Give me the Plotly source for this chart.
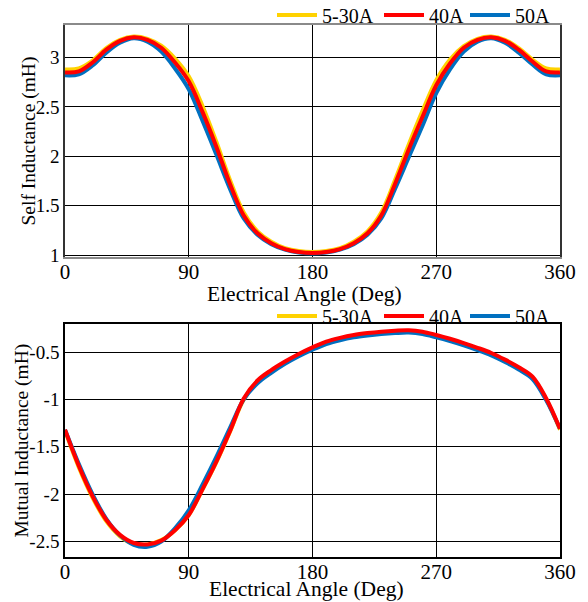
import plotly.graph_objects as go

# ---------------- data ----------------
angles = [0, 10, 20, 30, 40, 50, 60, 70, 80, 90, 100, 110, 120, 130, 140, 150, 160, 170, 180,
          190, 200, 210, 220, 230, 240, 250, 260, 270, 280, 290, 300, 310, 320, 330, 340, 350, 360]

self_5_30A = [2.88, 2.89, 2.97, 3.095, 3.18, 3.213, 3.19, 3.12, 2.99, 2.81, 2.51, 2.15, 1.76, 1.43,
              1.24, 1.135, 1.07, 1.04, 1.03, 1.04, 1.07, 1.135, 1.24, 1.43, 1.76, 2.12, 2.46, 2.77,
              2.98, 3.115, 3.19, 3.213, 3.18, 3.095, 2.98, 2.89, 2.88]
self_40A = [2.85, 2.86, 2.95, 3.08, 3.17, 3.205, 3.18, 3.10, 2.95, 2.76, 2.45, 2.10, 1.72, 1.40,
            1.22, 1.12, 1.06, 1.03, 1.02, 1.03, 1.06, 1.12, 1.22, 1.40, 1.72, 2.07, 2.40, 2.72,
            2.94, 3.10, 3.18, 3.205, 3.17, 3.08, 2.96, 2.86, 2.85]
self_50A = [2.82, 2.83, 2.92, 3.05, 3.15, 3.195, 3.16, 3.06, 2.89, 2.68, 2.36, 2.02, 1.67, 1.37,
            1.205, 1.11, 1.055, 1.025, 1.015, 1.025, 1.055, 1.11, 1.205, 1.37, 1.67, 1.99, 2.31,
            2.64, 2.88, 3.06, 3.16, 3.195, 3.15, 3.05, 2.93, 2.83, 2.82]

mutual_5_30A = [-1.33, -1.715, -2.035, -2.285, -2.445, -2.525, -2.53, -2.485, -2.38, -2.22, -1.95,
                -1.665, -1.34, -1.0, -0.81, -0.70, -0.61, -0.53, -0.46, -0.40, -0.36, -0.33, -0.31,
                -0.295, -0.285, -0.28, -0.295, -0.33, -0.37, -0.415, -0.465, -0.52, -0.59, -0.67,
                -0.77, -1.0, -1.32]
mutual_40A = [-1.32, -1.70, -2.02, -2.27, -2.43, -2.515, -2.53, -2.49, -2.38, -2.22, -1.95, -1.66,
              -1.335, -0.99, -0.80, -0.69, -0.60, -0.52, -0.45, -0.39, -0.35, -0.32, -0.30, -0.285,
              -0.275, -0.27, -0.285, -0.32, -0.36, -0.405, -0.455, -0.51, -0.58, -0.66, -0.76,
              -0.99, -1.31]
mutual_50A = [-1.32, -1.68, -2.00, -2.26, -2.435, -2.535, -2.555, -2.50, -2.36, -2.17, -1.90,
              -1.61, -1.30, -1.00, -0.83, -0.72, -0.625, -0.545, -0.475, -0.415, -0.375, -0.345,
              -0.325, -0.31, -0.30, -0.295, -0.31, -0.345, -0.385, -0.43, -0.48, -0.535, -0.605,
              -0.685, -0.785, -1.01, -1.31]

series_names = ["5-30A", "40A", "50A"]
series_colors = ["#FFD200", "#FF0000", "#0070C0"]

x_ticks = [0, 90, 180, 270, 360]
self_ticks = [1, 1.5, 2, 2.5, 3]
self_tick_text = ["1", "1.5", "2", "2.5", "3"]
mutual_ticks = [-2.5, -2, -1.5, -1, -0.5]
mutual_tick_text = ["-2.5", "-2", "-1.5", "-1", "-0.5"]

x_title = "Electrical Angle (Deg)"
self_title = "Self Inductance (mH)"
mutual_title = "Mutual Inductance (mH)"

# ---------------- figure ----------------
# page body has an 8px margin; figure coordinates = page coordinates - 8
W, H = 580, 594
FONT = "Liberation Serif"

fig = go.Figure()

top_series = [self_5_30A, self_40A, self_50A]
bot_series = [mutual_5_30A, mutual_40A, mutual_50A]
draw_order = [0, 2, 1]          # red drawn on top
legend_x_px = [270, 377, 463]   # start of each legend line sample (figure px)
LEG_DX = 6

for i in draw_order:
    fig.add_trace(go.Scatter(
        x=angles, y=top_series[i], mode="lines", name=series_names[i],
        line=dict(color=series_colors[i], width=4, shape="spline", smoothing=1.0),
        xaxis="x", yaxis="y", legend="legend" if i == 0 else f"legend{i + 1}"))
for i in draw_order:
    fig.add_trace(go.Scatter(
        x=angles, y=bot_series[i], mode="lines", name=series_names[i],
        line=dict(color=series_colors[i], width=4, shape="spline", smoothing=1.0),
        xaxis="x2", yaxis="y2", legend=f"legend{i + 4}"))

xd = [57 / W, 552 / W]
top_dom = [1 - 249 / H, 1 - 17 / H]
bot_dom = [1 - 549 / H, 1 - 316 / H]

axis_common = dict(showgrid=True, gridcolor="black", gridwidth=1, zeroline=False,
                   showline=True, mirror=True, ticks="", linewidth=1.5, automargin=False)
xtick_font = dict(family=FONT, size=21, color="black")
ytick_font = dict(family=FONT, size=19, color="black")
xtitle_font = dict(family=FONT, size=21.5, color="black")
ytitle_font = dict(family=FONT, size=19.5, color="black")
legend_font = dict(family=FONT, size=20, color="black")

legends = {}
for panel, yc in ((0, 7), (1, 308)):
    for i in range(3):
        key = "legend" if (panel == 0 and i == 0) else f"legend{panel * 3 + i + 1}"
        legends[key] = dict(orientation="h", x=(legend_x_px[i] - LEG_DX) / W, xanchor="left",
                            y=1 - yc / H, yanchor="middle", bgcolor="rgba(0,0,0,0)",
                            font=legend_font, itemwidth=40)

fig.update_layout(
    width=W, height=H,
    margin=dict(l=0, r=0, t=0, b=0, autoexpand=False),
    paper_bgcolor="white", plot_bgcolor="white",
    font=dict(family=FONT, color="black"),
    xaxis=dict(domain=xd, anchor="y", range=[0, 360], tickvals=x_ticks,
               ticktext=[str(v) for v in x_ticks], linecolor="#8a8a8a",
               tickfont=xtick_font, ticklabelstandoff=-5, **axis_common),
    yaxis=dict(domain=top_dom, anchor="x", range=[0.98, 3.33], tickvals=self_ticks,
               ticktext=self_tick_text, linecolor="#333333", tickfont=ytick_font,
               **axis_common),
    xaxis2=dict(domain=xd, anchor="y2", range=[0, 360], tickvals=x_ticks,
                ticktext=[str(v) for v in x_ticks], linecolor="black",
                tickfont=xtick_font, ticklabelstandoff=-5, **axis_common),
    yaxis2=dict(domain=bot_dom, anchor="x2", range=[-2.663, -0.204], tickvals=mutual_ticks,
                ticktext=mutual_tick_text, linecolor="black", tickfont=ytick_font,
                **axis_common),
    showlegend=True,
    **legends,
)

# axis titles
fig.add_annotation(text=x_title, xref="paper", yref="paper", x=(304.5 - 8) / W,
                   y=1 - 285.5 / H, xanchor="center", yanchor="middle", showarrow=False,
                   font=xtitle_font)
fig.add_annotation(text=x_title, xref="paper", yref="paper", x=(306 - 8) / W,
                   y=1 - 580.5 / H, xanchor="center", yanchor="middle", showarrow=False,
                   font=xtitle_font)
fig.add_annotation(text=self_title, xref="paper", yref="paper", x=20.5 / W,
                   y=1 - 133 / H, xanchor="center", yanchor="middle", showarrow=False,
                   textangle=-90, font=ytitle_font)
fig.add_annotation(text=mutual_title, xref="paper", yref="paper", x=13.5 / W,
                   y=1 - 433 / H, xanchor="center", yanchor="middle", showarrow=False,
                   textangle=-90, font=ytitle_font)

fig.write_html("out.html")
